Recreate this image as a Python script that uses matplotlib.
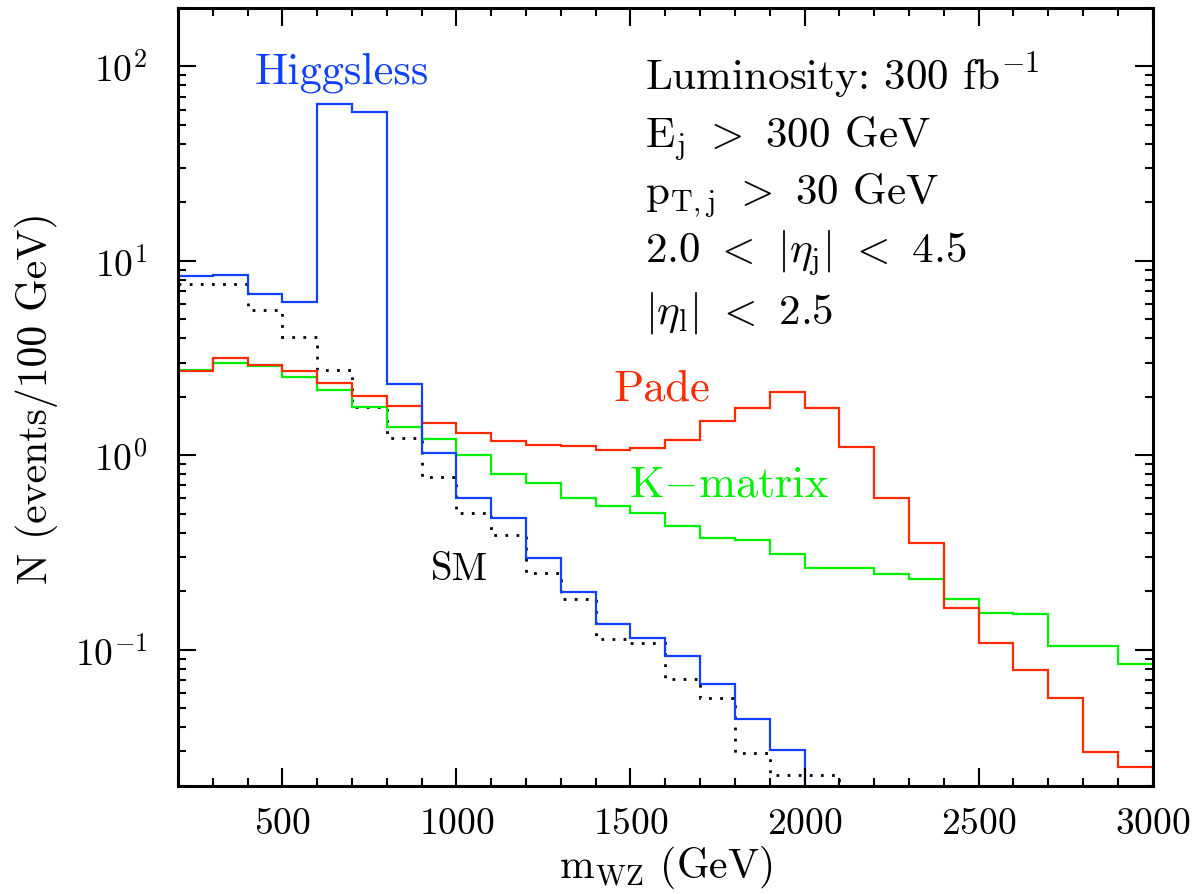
import matplotlib

matplotlib.use("Agg")

import matplotlib.pyplot as plt
import numpy as np
from matplotlib.ticker import LogLocator, MultipleLocator, NullFormatter

# bin edges in m_WZ (GeV), 100 GeV bins
edges = np.arange(200, 3001, 100)

# values per bin (events / 100 GeV)
higgsless = [8.35, 8.5, 6.78, 6.14, 64.5, 58.2, 2.34, 1.03, 0.601, 0.474,
             0.295, 0.198, 0.136, 0.115, 0.093, 0.0665, 0.044, 0.0305]
sm = [7.57, 7.6, 5.56, 4.08, 2.75, 1.78, 1.23, 0.774, 0.507, 0.388,
      0.249, 0.182, 0.114, 0.109, 0.0705, 0.0568, 0.0294, 0.0227, 0.0227]
pade = [2.71, 3.17, 2.93, 2.71, 2.35, 2.03, 1.79, 1.47, 1.31, 1.18,
        1.13, 1.12, 1.07, 1.09, 1.20, 1.50, 1.75, 2.13, 1.76, 1.10,
        0.606, 0.356, 0.165, 0.109, 0.0785, 0.0568, 0.0298, 0.0250]
kmatrix = [2.75, 2.97, 2.88, 2.54, 2.18, 1.78, 1.40, 1.22, 1.00, 0.798,
           0.718, 0.606, 0.548, 0.507, 0.433, 0.376, 0.367, 0.312, 0.262, 0.262,
           0.245, 0.230, 0.183, 0.155, 0.153, 0.104, 0.105, 0.0842]

cut_lines = [
    r"Luminosity: 300 fb$^{-1}$",
    r"E$_\mathrm{j}$ $>$ 300 GeV",
    r"p$_\mathrm{T,j}$ $>$ 30 GeV",
    r"2.0 $<$ $|\eta_\mathrm{j}|$ $<$ 4.5",
    r"$|\eta_\mathrm{l}|$ $<$ 2.5",
]

BLUE = "#1040ff"
RED = "#ff2a00"
GREEN = "#00f000"

plt.rcParams["font.family"] = "serif"
plt.rcParams["font.serif"] = ["cmr10"]
plt.rcParams["mathtext.fontset"] = "cm"
plt.rcParams["axes.formatter.use_mathtext"] = True

fig = plt.figure(figsize=(12.02, 8.95), dpi=100)
ax = fig.add_axes([0.148, 0.121, 0.811, 0.869])

lw = 1.6
ax.stairs(sm, edges[: len(sm) + 1], baseline=1e-4, color="black", lw=2.0,
          linestyle=(0, (1, 3)))
ax.stairs(kmatrix, edges[: len(kmatrix) + 1], baseline=None, color=GREEN, lw=lw)
ax.stairs(pade, edges[: len(pade) + 1], baseline=None, color=RED, lw=lw)
ax.stairs(higgsless, edges[: len(higgsless) + 1], baseline=1e-4, color=BLUE, lw=lw)

ax.set_yscale("log")
ax.set_xlim(200, 3000)
ax.set_ylim(0.02, 200)

ax.xaxis.set_major_locator(MultipleLocator(500))
ax.xaxis.set_minor_locator(MultipleLocator(100))
ax.yaxis.set_major_locator(LogLocator(base=10))
ax.yaxis.set_minor_locator(LogLocator(base=10, subs=np.arange(2, 10)))
ax.yaxis.set_minor_formatter(NullFormatter())

ax.tick_params(which="both", direction="in", top=True, right=True, width=1.5)
ax.tick_params(which="major", length=13)
ax.tick_params(which="minor", length=5.5)
ax.tick_params(axis="x", labelsize=27, pad=15)
ax.tick_params(axis="y", labelsize=27, pad=22)
for spine in ax.spines.values():
    spine.set_linewidth(2.2)

ax.set_xlabel(r"m$_\mathrm{WZ}$ (GeV)", fontsize=30)
ax.xaxis.set_label_coords(0.5, -0.074)
ax.xaxis.label.set_va("top")
ax.set_ylabel("N (events/100 GeV)", fontsize=30)
ax.yaxis.set_label_coords(-0.123, 0.5)

ax.text(0.079, 0.904, "Higgsless", color=BLUE, fontsize=32,
        transform=ax.transAxes, va="baseline")
ax.text(0.447, 0.496, "Pade", color=RED, fontsize=32,
        transform=ax.transAxes, va="baseline")
ax.text(0.4626, 0.373, r"K$-$matrix", color=GREEN, fontsize=32,
        transform=ax.transAxes, va="baseline")
ax.text(0.2595, 0.266, "SM", color="black", fontsize=28,
        transform=ax.transAxes, va="baseline")

for line, yy in zip(cut_lines, [0.896, 0.821, 0.748, 0.674, 0.596]):
    ax.text(0.479, yy, line, fontsize=31, transform=ax.transAxes, va="baseline")

fig.savefig("out.png", dpi=100)
